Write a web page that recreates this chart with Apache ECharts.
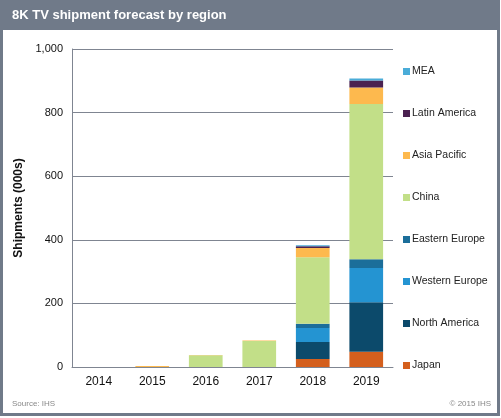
<!DOCTYPE html>
<html lang="en">
<head>
    <meta charset="UTF-8">
    <title>8K TV shipment forecast by region</title>
    <script src="https://cdn.jsdelivr.net/npm/echarts@6/dist/echarts.min.js"></script>
    <style>
        body { margin: 0; background: #fff; }
        #chart { width: 501px; height: 418px; }
    </style>
</head>
<body>
    <div id="chart"></div>
    <script>
        // data (thousands of units)
        var years = ['2014', '2015', '2016', '2017', '2018', '2019']
        var japan = [0, 0, 0, 0, 25, 48]
        var northAmerica = [0, 0, 0, 0, 54, 156]
        var westernEurope = [0, 0, 0, 0, 44, 107]
        var easternEurope = [0, 0, 0, 0, 13, 28]
        var china = [0, 0, 37, 82, 209, 488]
        var asiaPacific = [0, 3, 1, 1, 29, 52]
        var latinAmerica = [0, 0, 0, 0, 6, 22]
        var mea = [0, 0, 0, 0, 3, 6]
        var yTicks = [0, 200, 400, 600, 800, 1000]

        var font = 'Liberation Sans, Arial, sans-serif'
        var chart = echarts.init(document.getElementById('chart'))

        function bar(name, data, color) {
            return {
                name: name,
                type: 'bar',
                stack: 'all',
                barWidth: '63%',
                itemStyle: { color: color },
                data: data
            }
        }

        var option = {
            animation: false,
            textStyle: { fontFamily: font },
            graphic: [
                { type: 'rect', shape: { x: 1.5, y: 1.5, width: 497, height: 413 }, style: { fill: '#fff', stroke: '#707a89', lineWidth: 3 }, z: -10 },
                { type: 'rect', shape: { x: 2, y: 2, width: 497, height: 28 }, style: { fill: '#707a89' }, z: -9 },
                { type: 'text', left: 12, top: 9, style: { text: '8K TV shipment forecast by region', fill: '#fff', font: 'bold 13px ' + font } },
                { type: 'text', left: 12, top: 400, style: { text: 'Source: IHS', fill: '#888', font: '8px ' + font } },
                { type: 'text', right: 10, top: 400, style: { text: '\u00a9 2015 IHS', fill: '#888', font: '8px ' + font } }
            ],
            grid: { left: 72, right: 108, top: 49, bottom: 51 },
            legend: {
                orient: 'vertical',
                left: 398,
                top: 61,
                itemWidth: 7,
                itemHeight: 7,
                itemGap: 31,
                icon: 'rect',
                textStyle: { fontSize: 10.5, color: '#222', padding: [0, 0, 0, -3] },
                data: ['MEA', 'Latin America', 'Asia Pacific', 'China', 'Eastern Europe', 'Western Europe', 'North America', 'Japan']
            },
            xAxis: {
                type: 'category',
                data: years,
                axisLine: { lineStyle: { color: '#7f8591' } },
                axisTick: { length: 4, lineStyle: { color: '#7f8591' } },
                axisLabel: { color: '#111', fontSize: 12, margin: 9 }
            },
            yAxis: {
                type: 'value',
                min: 0,
                max: 1000,
                interval: 200,
                name: 'Shipments (000s)',
                nameLocation: 'middle',
                nameGap: 42,
                nameTextStyle: { fontWeight: 'bold', fontSize: 12, color: '#111' },
                axisLine: { show: true, lineStyle: { color: '#7f8591' } },
                axisTick: { show: false },
                splitLine: { lineStyle: { color: '#7f8591' } },
                axisLabel: {
                    color: '#111', fontSize: 11, margin: 9,
                    formatter: function (v) { return yTicks.indexOf(v) >= 0 ? v.toLocaleString('en-US') : '' }
                }
            },
            series: [
                bar('Japan', japan, '#d45f1d'),
                bar('North America', northAmerica, '#0c4a6b'),
                bar('Western Europe', westernEurope, '#2494d2'),
                bar('Eastern Europe', easternEurope, '#1b6e9a'),
                bar('China', china, '#c2df88'),
                bar('Asia Pacific', asiaPacific, '#fdb94e'),
                bar('Latin America', latinAmerica, '#4b2150'),
                bar('MEA', mea, '#4aacd8')
            ]
        }
        chart.setOption(option)
    </script>
</body>
</html>
